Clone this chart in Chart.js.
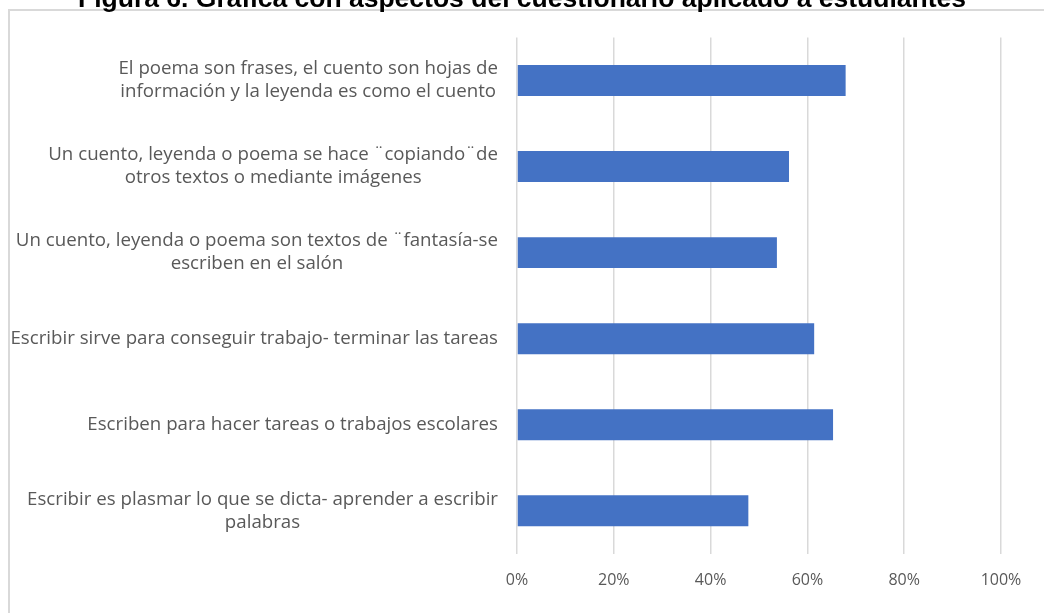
<!DOCTYPE html>
<html lang="es">
<head>
<meta charset="utf-8">
<title>Figura 6</title>
<script src="https://cdn.jsdelivr.net/npm/chart.js@4.4.1/dist/chart.umd.min.js"></script>
<style>
  html, body { margin: 0; padding: 0; background: #fff; overflow: hidden; }
  body { width: 1044px; height: 613px; position: relative; }
  #marco { position: absolute; left: 8px; top: 9px; width: 1100px; height: 700px; border: 2px solid #d9d9d9; box-sizing: border-box; }
  #caja { position: absolute; left: 0; top: -14px; width: 1044px; height: 627px; }
</style>
</head>
<body>
<div id="marco"></div>
<div id="caja"><canvas id="grafica"></canvas></div>
<script>
// datos
const titulo = "Figura 6. Gráfica con aspectos del cuestionario aplicado a estudiantes";
const categorias = [
  ["El poema son frases, el cuento son hojas de", "información y la leyenda es como el cuento"],
  ["Un cuento, leyenda o poema se hace ¨copiando¨de", "otros textos o mediante imágenes"],
  ["Un cuento, leyenda o poema son textos de ¨fantasía-se", "escriben en el salón"],
  ["Escribir sirve para conseguir trabajo- terminar las tareas"],
  ["Escriben para hacer tareas o trabajos escolares"],
  ["Escribir es plasmar lo que se dicta- aprender a escribir", "palabras"]
];
const porcentajes = [67.9, 56.2, 53.7, 61.4, 65.3, 47.8];
const ticksX = [0, 20, 40, 60, 80, 100];

const fuente = "'Open Sans', 'Noto Sans', sans-serif";
const gris = "#595959";

// etiquetas del eje Y: cada bloque alineado a la derecha, lineas centradas entre si
const etiquetasY = {
  id: "etiquetasY",
  afterDraw(chart) {
    const ctx = chart.ctx;
    const escala = chart.scales.y;
    const derecha = chart.chartArea.left - 19;
    const alto = 23;
    ctx.save();
    ctx.font = "18.7px " + fuente;
    ctx.fillStyle = gris;
    ctx.textAlign = "center";
    ctx.textBaseline = "middle";
    categorias.forEach((lineas, i) => {
      const y = escala.getPixelForTick(i);
      const ancho = Math.max(...lineas.map(l => ctx.measureText(l).width));
      const cx = derecha - ancho / 2;
      const y0 = y - (lineas.length - 1) * alto / 2;
      lineas.forEach((l, j) => ctx.fillText(l, cx, y0 + j * alto));
    });
    ctx.restore();
  }
};

new Chart(document.getElementById("grafica"), {
  type: "bar",
  data: {
    labels: categorias,
    datasets: [{
      data: porcentajes,
      backgroundColor: "#4472C4",
      borderWidth: 0,
      barPercentage: 0.36,
      categoryPercentage: 1
    }]
  },
  options: {
    indexAxis: "y",
    responsive: true,
    maintainAspectRatio: false,
    animation: false,
    layout: { padding: { left: 43, right: 43, top: 0, bottom: 6 } },
    plugins: {
      legend: { display: false },
      tooltip: { enabled: false },
      title: {
        display: true,
        text: titulo,
        color: "#000",
        font: { family: "'Liberation Sans', Arial, sans-serif", size: 26.5, weight: "bold", lineHeight: 1 },
        padding: { top: 0, bottom: 25 }
      }
    },
    scales: {
      x: {
        min: 0,
        max: 100,
        afterBuildTicks: s => { s.ticks = ticksX.map(v => ({ value: v })); },
        grid: { color: "#d9d9d9", lineWidth: 1.5, drawTicks: false },
        border: { display: false },
        ticks: {
          color: gris,
          padding: 17,
          font: { family: fuente, size: 16 },
          callback: v => v + "%"
        }
      },
      y: {
        grid: { display: false },
        border: { display: false },
        ticks: { display: false },
        afterFit: s => { s.width = 474; }
      }
    }
  },
  plugins: [etiquetasY]
});
</script>
</body>
</html>
